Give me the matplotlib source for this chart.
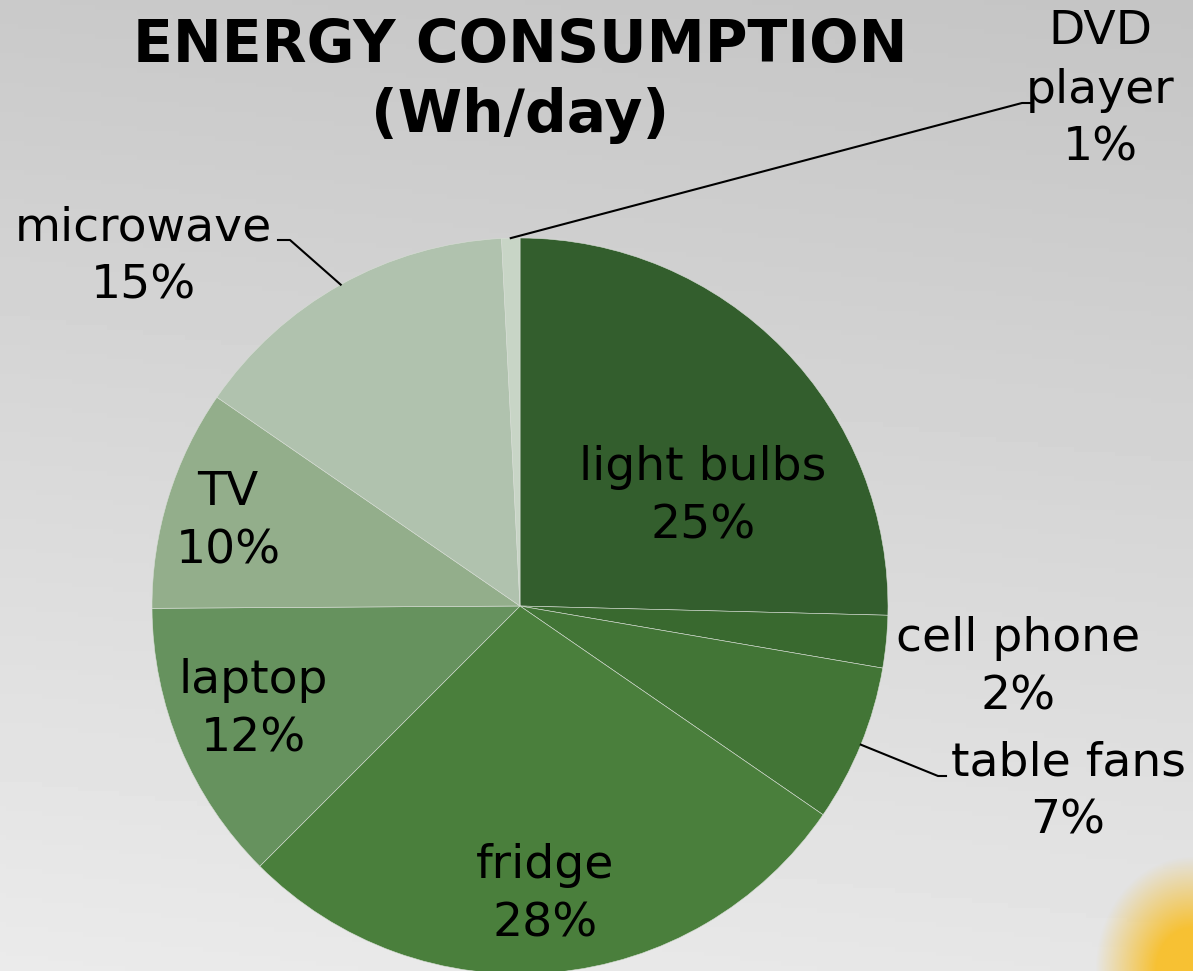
import numpy as np
import matplotlib.pyplot as plt

# data
appliances = ['light bulbs', 'cell phone', 'table fans', 'fridge',
              'laptop', 'TV', 'microwave', 'DVD\nplayer']
shares = [25.4, 2.3, 6.9, 27.9, 12.4, 9.7, 14.6, 0.8]
colors = ['#335E2D', '#39692F', '#427536', '#4A7F3C',
          '#66925E', '#93AE8B', '#B0C2AE', '#C8D5C6']

W, H = 1193, 971
fig = plt.figure(figsize=(W / 100, H / 100), dpi=100)
ax = fig.add_axes([0, 0, 1, 1])
ax.set_xlim(0, W)
ax.set_ylim(0, H)
ax.set_aspect('equal')
ax.axis('off')

# grey gradient background
yy, xx = np.mgrid[0:1:200j, 0:1:200j]
bg = 0.79 + 0.13 * yy - 0.02 * xx
ax.imshow(bg, extent=[0, W, 0, H], origin='upper', cmap='gray',
          vmin=0, vmax=1, zorder=0, aspect='auto')

# yellow blob in bottom right corner
yy2, xx2 = np.mgrid[0:1:120j, 0:1:120j]
d = np.sqrt((1 - xx2) ** 2 + (1 - yy2) ** 2)
alpha = np.clip(1.6 - 1.6 * d, 0, 1)
blob = np.zeros((120, 120, 4))
blob[..., 0] = 0.97
blob[..., 1] = 0.76
blob[..., 2] = 0.2
blob[..., 3] = alpha
ax.imshow(blob, extent=[1095, W, 0, 115], origin='upper', zorder=0.5,
          aspect='auto')

cx, cy, r = 520, H - 606, 368
wedges, _ = ax.pie(shares, colors=colors, startangle=90, counterclock=False,
                   center=(cx, cy), radius=r,
                   wedgeprops=dict(edgecolor='#D8DED6', linewidth=0.4))
ax.set_xlim(0, W)
ax.set_ylim(0, H)

fs = 34
pct = [f'{round(s)}%' for s in shares]

# label positions (image pixel coordinates)
label_pos = {
    'light bulbs': (703, 497),
    'cell phone': (1018, 668),
    'table fans': (1068, 792),
    'fridge': (545, 895),
    'laptop': (253, 710),
    'TV': (228, 522),
    'microwave': (143, 257),
    'DVD\nplayer': (1100, 90),
}
for name, p in zip(appliances, pct):
    x, y = label_pos[name]
    ax.text(x, H - y, f'{name}\n{p}', ha='center', va='center',
            fontsize=fs, linespacing=1.38, color='black', zorder=5)

# leader lines from wedge mid-angle to label
elbows = {
    'table fans': [(938, 776), (946, 776)],
    'microwave': [(290, 240), (278, 240)],
    'DVD\nplayer': [(1022, 103), (1030, 103)],
}
cum = np.cumsum([0] + shares)
for i, name in enumerate(appliances):
    if name not in elbows:
        continue
    mid = (cum[i] + cum[i + 1]) / 2 / sum(shares) * 2 * np.pi
    ax0 = cx + r * np.sin(mid)
    ay0 = cy + r * np.cos(mid)
    pts = [(ax0, ay0)] + [(x, H - y) for x, y in elbows[name]]
    xs, ys = zip(*pts)
    ax.plot(xs, ys, color='black', lw=1.5, zorder=4)

ax.text(520, H - 45, 'ENERGY CONSUMPTION', ha='center', va='center',
        fontsize=42, fontweight='bold', zorder=5)
ax.text(520, H - 115, '(Wh/day)', ha='center', va='center',
        fontsize=42, fontweight='bold', zorder=5)

fig.savefig('out.png', dpi=100)
